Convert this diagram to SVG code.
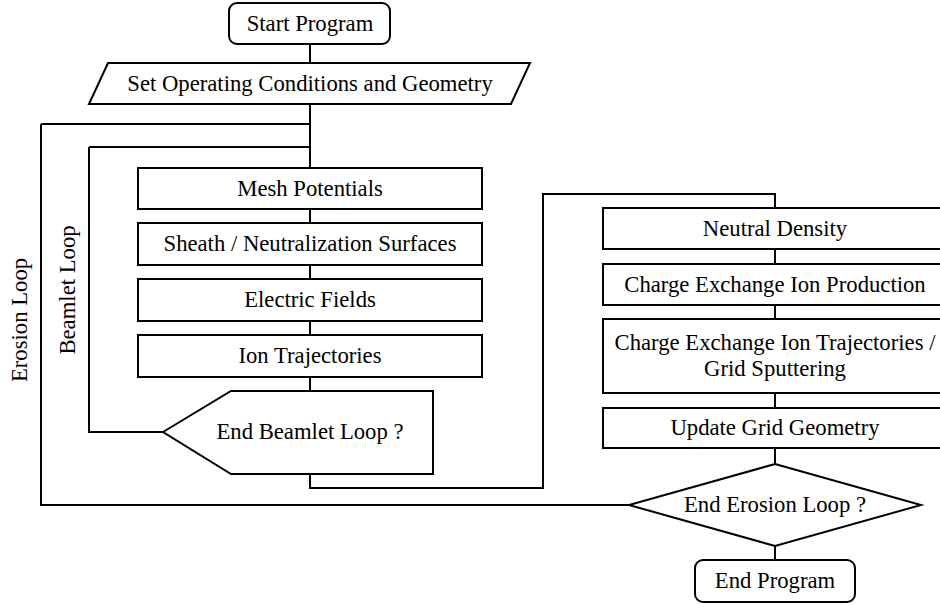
<svg xmlns="http://www.w3.org/2000/svg" width="940" height="605" viewBox="0 0 940 605">
<style>
.s{fill:#fff;stroke:#000;stroke-width:2}
.c{fill:none;stroke:#000;stroke-width:2}
.t text{font-size:22.7px;fill:#000;text-anchor:middle}
</style>
<rect width="940" height="605" fill="#fff"/>
<g id="connectors">
<path class="c" d="M310 44V168"/>
<path class="c" d="M41 124H310"/>
<path class="c" d="M89 147H310"/>
<path class="c" d="M310 209V223M310 265V279M310 321V335M310 377V391"/>
<path class="c" d="M89 147V432H163"/>
<path class="c" d="M310 474V488H543V194H775V208"/>
<path class="c" d="M775 249V264M775 305V319M775 393V408M775 448V464M775 546V560"/>
<path class="c" d="M41 124V505H629"/>
</g>
<g class="t" font-family="'Liberation Serif', 'Times New Roman', Times, serif">
<g id="start"><rect class="s" x="229" y="3" width="161" height="41" rx="8"/><text x="310" y="31">Start Program</text></g>
<g id="setup"><polygon class="s" points="108,63 530,63 511,104 89,104"/><text x="310" y="91">Set Operating Conditions and Geometry</text></g>
<g id="mesh"><rect class="s" x="138" y="168" width="344" height="41"/><text x="310" y="196">Mesh Potentials</text></g>
<g id="sheath"><rect class="s" x="138" y="223" width="344" height="42"/><text x="310" y="251">Sheath / Neutralization Surfaces</text></g>
<g id="efields"><rect class="s" x="138" y="279" width="344" height="42"/><text x="310" y="307">Electric Fields</text></g>
<g id="iontraj"><rect class="s" x="138" y="335" width="344" height="42"/><text x="310" y="363">Ion Trajectories</text></g>
<g id="endbeamlet"><polygon class="s" points="163,432 231,391 433,391 433,474 231,474"/><text x="310" y="439">End Beamlet Loop ?</text></g>
<g id="neutral"><rect class="s" x="603" y="208" width="344" height="41"/><text x="775" y="236">Neutral Density</text></g>
<g id="cexprod"><rect class="s" x="603" y="264" width="344" height="41"/><text x="775" y="292">Charge Exchange Ion Production</text></g>
<g id="cextraj"><rect class="s" x="603" y="319" width="344" height="74"/><text x="775" y="350">Charge Exchange Ion Trajectories /</text><text x="775" y="376">Grid Sputtering</text></g>
<g id="update"><rect class="s" x="603" y="408" width="344" height="40"/><text x="775" y="435">Update Grid Geometry</text></g>
<g id="enderosion"><polygon class="s" points="775,464 921,505 775,546 629,505"/><text x="775" y="512">End Erosion Loop ?</text></g>
<g id="end"><rect class="s" x="695" y="560" width="160" height="42" rx="8"/><text x="775" y="588">End Program</text></g>
<g id="labels">
<text transform="translate(27,320) rotate(-90)">Erosion Loop</text>
<text transform="translate(75,290) rotate(-90)">Beamlet Loop</text>
</g>
</g>
</svg>
